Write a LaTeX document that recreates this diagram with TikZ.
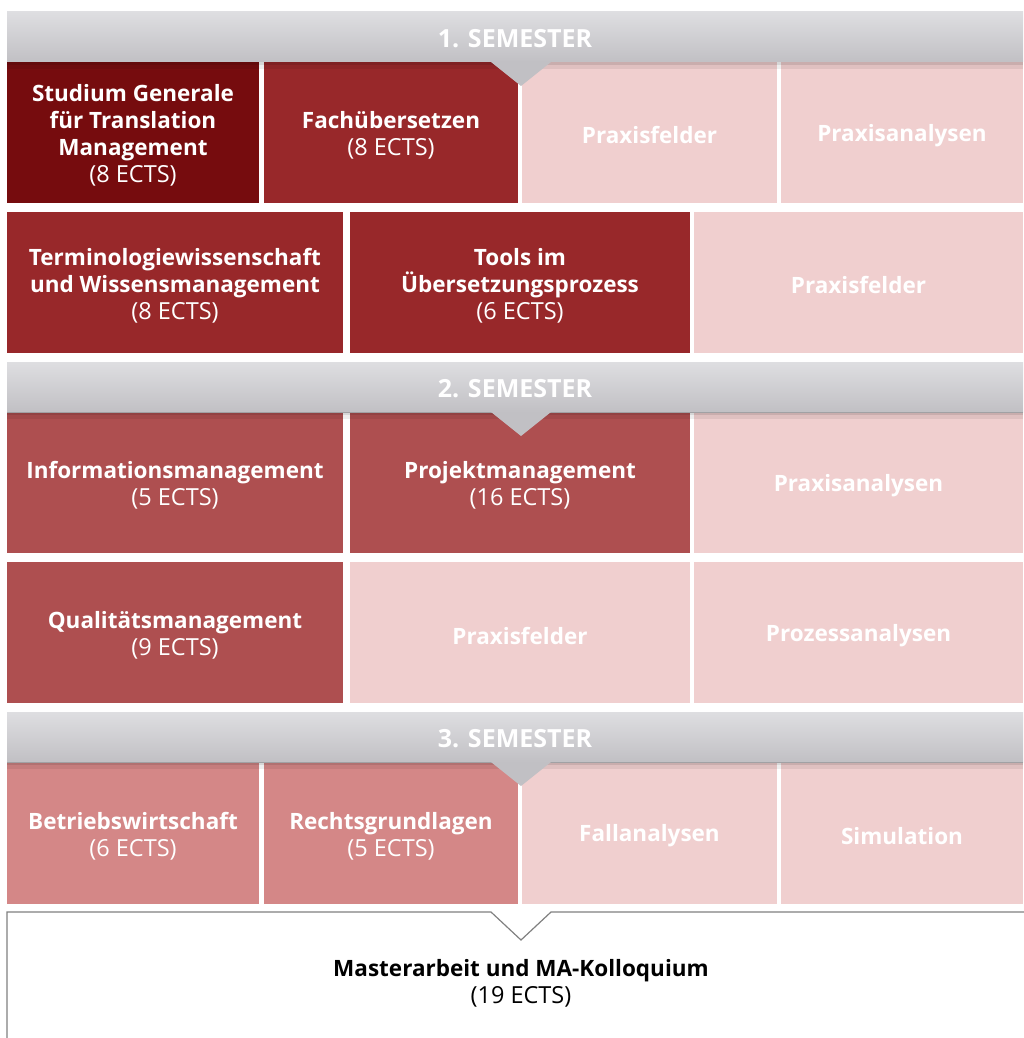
\documentclass[tikz,border=0pt]{standalone}
\usepackage{fontspec}
\setmainfont{Open Sans}
\usepackage{xcolor}
\definecolor{modA}{HTML}{760C0E}
\definecolor{modB}{HTML}{98282A}
\definecolor{modC}{HTML}{AE4F50}
\definecolor{modD}{HTML}{D48787}
\definecolor{prax}{HTML}{F0CFCF}
\definecolor{semtop}{HTML}{DEDEE1}
\definecolor{sembot}{HTML}{C1C0C4}
\newcommand\ects[1]{{\fontsize{23.5}{27}\selectfont\mdseries (#1 ECTS)}}

\begin{document}
\begin{tikzpicture}[x=1pt,y=-1pt,
  every node/.style={font=\fontsize{22.5}{27}\selectfont\bfseries, align=center},
  cell/.style={rectangle,inner sep=0pt,minimum height=141},
  txt/.style={text=white,yshift=-3pt},
  sem/.style={rectangle,inner sep=0pt,minimum width=1016,minimum height=50,
    top color=semtop,bottom color=sembot,text=white,font=\fontsize{25}{26}\selectfont\bfseries,
    execute at begin node={\rule{0pt}{22pt}}},
  shadow/.style={black,opacity=#1}
]
  \useasboundingbox (0,0) rectangle (1023,1038);

  % 1. Semester
  \node[cell,fill=modA,minimum width=252,
    label={[txt]center:{Studium Generale\\für Translation\\Management\\\ects{8}}}] (sg) at (133,132.5) {};
  \node[cell,fill=modB,minimum width=254,
    label={[txt]center:{Fachübersetzen\\\ects{8}}}] (fue) at (391,132.5) {};
  \node[cell,fill=prax,minimum width=255,label={[txt]center:Praxisfelder}] (pf1) at (649.5,132.5) {};
  \node[cell,fill=prax,minimum width=242,label={[txt]center:Praxisanalysen}] (pa1) at (902,132.5) {};

  \node[cell,fill=modB,minimum width=336,
    label={[txt]center:{Terminologiewissenschaft\\und Wissensmanagement\\\ects{8}}}] (tw) at (175,282.5) {};
  \node[cell,fill=modB,minimum width=340,
    label={[txt]center:{Tools im\\Übersetzungsprozess\\\ects{6}}}] (tools) at (520,282.5) {};
  \node[cell,fill=prax,minimum width=329,label={[txt]center:Praxisfelder}] (pf2) at (858.5,282.5) {};

  \node[sem] (s1) at (515,37) {1. SEMESTER};
  \fill[shadow=.16] (7,62) rectangle (1023,65);
  \fill[shadow=.07] (7,65) rectangle (1023,69);
  \fill[sembot] (491,62) -- (551,62) -- (521,86) -- cycle;

  % 2. Semester
  \node[cell,fill=modC,minimum width=336,
    label={[txt]center:{Informationsmanagement\\\ects{5}}}] (im) at (175,482.5) {};
  \node[cell,fill=modC,minimum width=340,
    label={[txt]center:{Projektmanagement\\\ects{16}}}] (pm) at (520,482.5) {};
  \node[cell,fill=prax,minimum width=329,label={[txt]center:Praxisanalysen}] (pa2) at (858.5,482.5) {};

  \node[cell,fill=modC,minimum width=336,
    label={[txt]center:{Qualitätsmanagement\\\ects{9}}}] (qm) at (175,632.5) {};
  \node[cell,fill=prax,minimum width=340,label={[txt]center:Praxisfelder}] (pf3) at (520,632.5) {};
  \node[cell,fill=prax,minimum width=329,label={[txt]center:Prozessanalysen}] (pz) at (858.5,632.5) {};

  \node[sem] (s2) at (515,387) {2. SEMESTER};
  \fill[shadow=.16] (7,412) rectangle (1023,415);
  \fill[shadow=.07] (7,415) rectangle (1023,419);
  \fill[sembot] (491,412) -- (551,412) -- (521,436) -- cycle;

  % 3. Semester
  \node[cell,fill=modD,minimum width=252,
    label={[txt]center:{Betriebswirtschaft\\\ects{6}}}] (bw) at (133,833) {};
  \node[cell,fill=modD,minimum width=254,
    label={[txt]center:{Rechtsgrundlagen\\\ects{5}}}] (rg) at (391,833) {};
  \node[cell,fill=prax,minimum width=255,label={[txt]center:Fallanalysen}] (fa) at (649.5,833) {};
  \node[cell,fill=prax,minimum width=242,label={[txt]center:Simulation}] (sim) at (902,833) {};

  \node[sem] (s3) at (515,737) {3. SEMESTER};
  \fill[shadow=.16] (7,762) rectangle (1023,765);
  \fill[shadow=.07] (7,765) rectangle (1023,769);
  \fill[sembot] (491,762) -- (551,762) -- (521,786) -- cycle;

  % Masterarbeit
  \draw[gray,line width=1.2] (7,1040) -- (7,912) -- (491,912) -- (521,940)
    -- (551,912) -- (1025,912);
  \node (ma) at (521,983) {Masterarbeit und MA-Kolloquium\\\ects{19}};
\end{tikzpicture}
\end{document}
